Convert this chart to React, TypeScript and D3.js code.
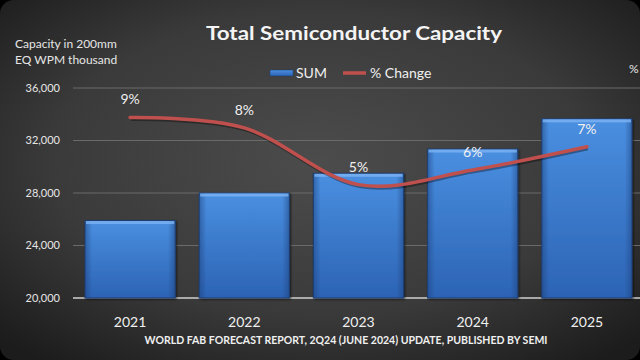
import React from 'react';
import * as d3 from 'd3';

const categories = ['2021', '2022', '2023', '2024', '2025'];
const capacity = [25900, 28000, 29500, 31350, 33650];
const pctChange = [8.6, 8.1, 5.4, 6.1, 7.2];
const yTicks = [20000, 24000, 28000, 32000, 36000];

const W = 640;
const H = 360;
const FONT = "Lato, 'Open Sans', sans-serif";

export default function App() {
  const x = d3.scaleBand<string>().domain(categories).range([73, 644]).paddingInner(0.21).paddingOuter(0.105);
  const y = d3.scaleLinear().domain([20000, 36000]).range([298, 88]);
  const y2 = d3.scaleLinear().domain([0, 10]).range([298, 88]);
  const cx = (c: string) => (x(c) as number) + x.bandwidth() / 2;
  const linePts: [number, number][] = categories.map((c, i) => [cx(c), y2(pctChange[i])]);
  const line = d3.line().curve(d3.curveCardinal.tension(0.0))(linePts) || '';
  const fmt = d3.format(',');

  return (
    <svg width={W} height={H} style={{ position: 'absolute', left: 0, top: 0, background: '#000' }} fontFamily={FONT}>
      <defs>
        <radialGradient id="bg" cx="50%" cy="45%" r="70%">
          <stop offset="0%" stopColor="#4c4c4c" />
          <stop offset="60%" stopColor="#3a3a3a" />
          <stop offset="100%" stopColor="#1c1c1c" />
        </radialGradient>
        <linearGradient id="bar" x1="0" y1="0" x2="0" y2="1">
          <stop offset="0%" stopColor="#4a8fe0" />
          <stop offset="100%" stopColor="#2c63b4" />
        </linearGradient>
        <linearGradient id="barH" x1="0" y1="0" x2="1" y2="0">
          <stop offset="0%" stopColor="#1c3f78" stopOpacity="0.5" />
          <stop offset="8%" stopColor="#1c3f78" stopOpacity="0" />
          <stop offset="92%" stopColor="#1c3f78" stopOpacity="0" />
          <stop offset="100%" stopColor="#1c3f78" stopOpacity="0.5" />
        </linearGradient>
        <filter id="sh" x="-10%" y="-10%" width="130%" height="130%">
          <feDropShadow dx="1" dy="1" stdDeviation="1.2" floodColor="#000" floodOpacity="0.6" />
        </filter>
      </defs>
      <rect x={0} y={0} width={W} height={H} rx={14} fill="url(#bg)" />

      {/* grid */}
      {yTicks.map((t) => (
        <line key={t} x1={73} x2={640} y1={y(t)} y2={y(t)} stroke={t === 20000 ? '#d0d0d0' : '#6a6a6a'} strokeWidth={t === 20000 ? 1.5 : 1} />
      ))}
      {yTicks.map((t) => (
        <text key={'l' + t} x={60} y={y(t)} dy="0.35em" textAnchor="end" fontSize={11} fill="#e6e6e6">
          {fmt(t)}
        </text>
      ))}

      {/* bars */}
      {categories.map((c, i) => {
        const bx = x(c) as number;
        const by = y(capacity[i]);
        const bh = y(20000) - by;
        return (
          <g key={c}>
            <rect x={bx} y={by} width={x.bandwidth()} height={bh} fill="url(#bar)" stroke="#1e3e70" strokeWidth={1} filter="url(#sh)" />
            <rect x={bx} y={by} width={x.bandwidth()} height={bh} fill="url(#barH)" />
            <rect x={bx + 1} y={by + 0.5} width={x.bandwidth() - 2} height={3} fill="#7db3f2" opacity={0.8} />
          </g>
        );
      })}

      {/* line */}
      <path d={line} fill="none" stroke="#000" strokeOpacity={0.35} strokeWidth={4} transform="translate(1,1.5)" />
      <path d={line} fill="none" stroke="#c0504d" strokeWidth={3.5} strokeLinecap="round" />
      {categories.map((c, i) => (
        <text key={'p' + c} x={cx(c)} y={y2(pctChange[i]) - 18} dy="0.35em" textAnchor="middle" fontSize={14} fill="#f0f0f0">
          {Math.round(pctChange[i]) + '%'}
        </text>
      ))}

      {/* x labels */}
      {categories.map((c) => (
        <text key={'x' + c} x={cx(c)} y={322} dy="0.35em" textAnchor="middle" fontSize={14} fill="#f0f0f0">
          {c}
        </text>
      ))}

      {/* title */}
      <text x={354} y={40} textAnchor="middle" fontSize={19} fontWeight="bold" fill="#f4f4f4" textLength={296} lengthAdjust="spacingAndGlyphs">
        Total Semiconductor Capacity
      </text>
      <text x={15} y={48} fontSize={12} fill="#e6e6e6">Capacity in 200mm</text>
      <text x={15} y={64} fontSize={12} fill="#e6e6e6">EQ WPM thousand</text>
      <text x={629} y={73} fontSize={12} fill="#e6e6e6">%</text>

      {/* legend */}
      <rect x={270} y={70} width={23} height={6} fill="url(#bar)" stroke="#1e3e70" strokeWidth={0.5} />
      <text x={296} y={73} dy="0.35em" fontSize={14} fill="#f0f0f0">SUM</text>
      <line x1={343} x2={366} y1={73} y2={73} stroke="#c0504d" strokeWidth={3.5} />
      <text x={370} y={73} dy="0.35em" fontSize={14} fill="#f0f0f0">% Change</text>

      {/* footer */}
      <text x={346} y={344} textAnchor="middle" fontSize={10.5} fontWeight="bold" fill="#f0f0f0" textLength={403} lengthAdjust="spacingAndGlyphs">
        WORLD FAB FORECAST REPORT, 2Q24 (JUNE 2024) UPDATE, PUBLISHED BY SEMI
      </text>
    </svg>
  );
}
